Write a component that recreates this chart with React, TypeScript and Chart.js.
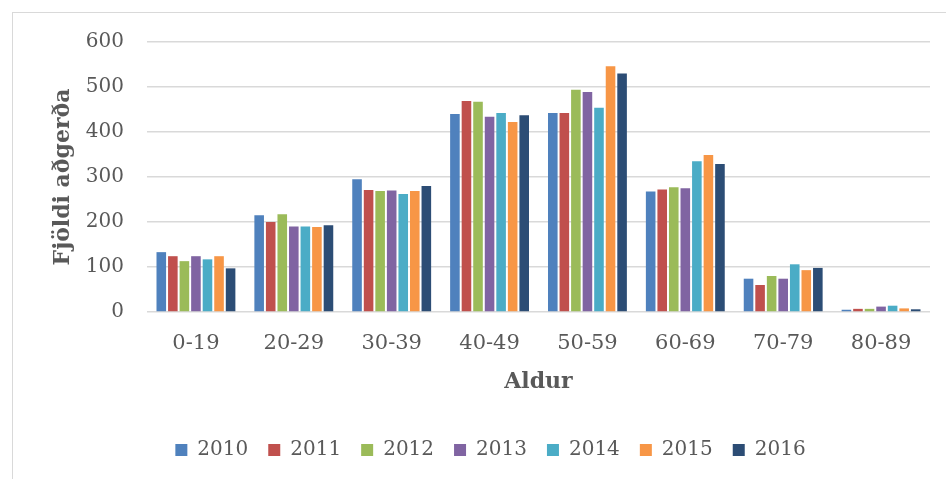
import React, { useEffect, useRef } from "react";
import { Chart, registerables } from "chart.js";

Chart.register(...registerables);

const categories = ["0-19", "20-29", "30-39", "40-49", "50-59", "60-69", "70-79", "80-89"];
const years = ["2010", "2011", "2012", "2013", "2014", "2015", "2016"];
const v2010 = [133, 215, 295, 440, 442, 268, 74, 5];
const v2011 = [124, 200, 271, 469, 442, 272, 60, 7];
const v2012 = [113, 217, 269, 467, 494, 277, 80, 7];
const v2013 = [124, 190, 270, 434, 489, 275, 74, 12];
const v2014 = [117, 190, 262, 442, 454, 335, 106, 14];
const v2015 = [124, 189, 269, 422, 546, 349, 93, 8];
const v2016 = [97, 193, 280, 437, 530, 329, 98, 6];
const seriesValues = [v2010, v2011, v2012, v2013, v2014, v2015, v2016];
const colors = ["#4F81BD", "#C0504D", "#9BBB59", "#8064A2", "#4BACC6", "#F79646", "#2C4D75"];
const yTicks = [0, 100, 200, 300, 400, 500, 600];
const yTitle = "Fjöldi aðgerða";
const xTitle = "Aldur";

const FONT = "'DejaVu Serif', serif";
const TEXT = "#595959";

export default function App() {
  const ref = useRef<HTMLCanvasElement | null>(null);
  useEffect(() => {
    if (!ref.current) return;
    const chart = new Chart(ref.current, {
      type: "bar",
      data: {
        labels: categories,
        datasets: years.map((y, i) => ({
          label: y,
          data: seriesValues[i],
          backgroundColor: colors[i],
          borderWidth: 0,
          categoryPercentage: 0.826,
          barPercentage: 0.83,
        })),
      },
      options: {
        animation: false,
        responsive: true,
        maintainAspectRatio: false,
        layout: { padding: { top: 29, left: 0, right: 0, bottom: 3 } },
        plugins: {
          tooltip: { enabled: false },
          legend: {
            position: "bottom",
            labels: {
              boxWidth: 12,
              boxHeight: 12,
              padding: 20,
              color: TEXT,
              font: { family: FONT, size: 20 },
            },
          },
        },
        scales: {
          x: {
            grid: { display: false, drawTicks: false },
            border: { display: false },
            ticks: { color: TEXT, font: { family: FONT, size: 21 }, padding: 19, maxRotation: 0 },
            title: {
              display: true,
              text: xTitle,
              color: TEXT,
              font: { family: FONT, size: 22, weight: "bold" },
              padding: { top: 0, bottom: 25 },
            },
            afterFit: (axis: any) => {
              axis.height = 108;
            },
          },
          y: {
            min: 0,
            max: 600,
            afterBuildTicks: (axis: any) => {
              axis.ticks = yTicks.map((v) => ({ value: v }));
            },
            grid: { color: "#d9d9d9", lineWidth: 1.5, drawTicks: false },
            border: { display: false },
            ticks: { color: TEXT, font: { family: FONT, size: 20 }, padding: 23 },
            title: {
              display: true,
              text: yTitle,
              color: TEXT,
              font: { family: FONT, size: 22, weight: "bold" },
              padding: { top: 37, bottom: 0 },
            },
            afterFit: (axis: any) => {
              axis.width = 134;
              axis.paddingTop = 12;
              axis.paddingBottom = 12;
            },
          },
          y2: {
            type: "linear",
            position: "right",
            display: true,
            grid: { display: false, drawTicks: false },
            border: { display: false },
            ticks: { display: false },
            afterFit: (axis: any) => {
              axis.width = 38;
              axis.paddingTop = 0;
              axis.paddingBottom = 0;
            },
          },
        },
      },
    } as any);
    return () => chart.destroy();
  }, []);

  return (
    <div style={{ position: "fixed", left: 0, top: 0, width: 946, height: 479, overflow: "hidden", background: "#fff" }}>
      <div
        style={{
          position: "absolute",
          left: 12,
          top: 12,
          borderLeft: "1px solid #d9d9d9",
          borderTop: "1px solid #d9d9d9",
          width: 955,
          height: 480,
        }}
      >
        <div style={{ position: "relative", width: 955, height: 460 }}>
          <canvas ref={ref} />
        </div>
      </div>
    </div>
  );
}
